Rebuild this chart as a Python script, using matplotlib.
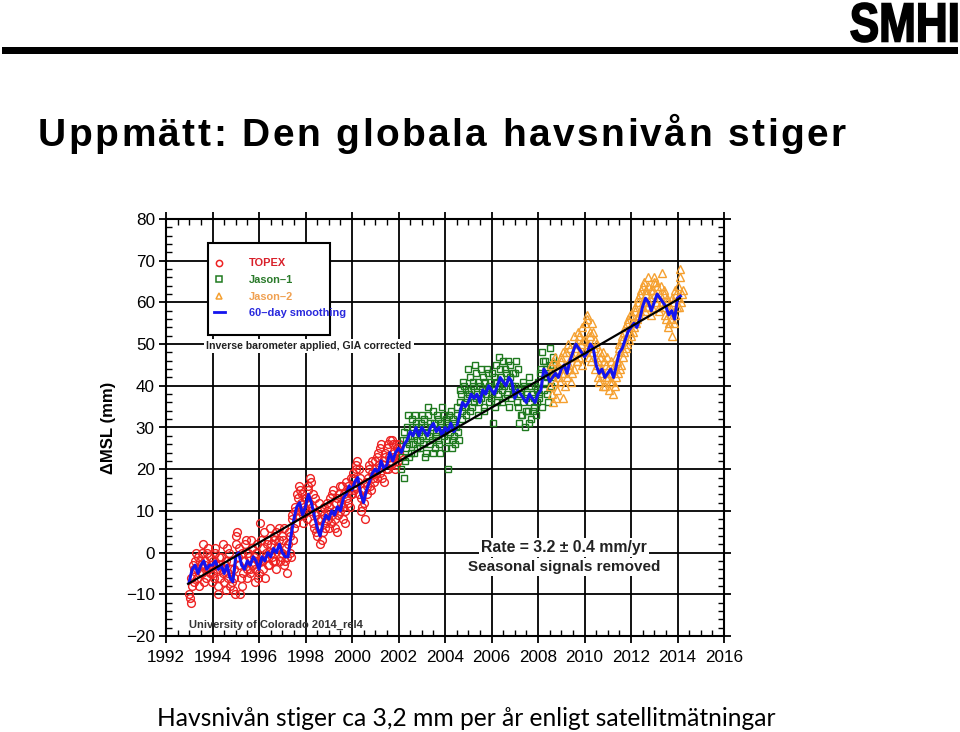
import numpy as np
import matplotlib
matplotlib.use("Agg")
import matplotlib.pyplot as plt
import matplotlib.transforms as mtransforms
from matplotlib.lines import Line2D
from matplotlib.patches import Rectangle, PathPatch
from matplotlib.textpath import TextPath
from matplotlib.font_manager import FontProperties

plt.rcParams['font.family'] = ['Liberation Sans', 'DejaVu Sans']

# --- data (mm); two interleaved sets, 16 samples per year each ---
topex_start = 1993.0
topex = [
    -10, -12, -8, -4, -2, -6, -1, -5, -3, 0, -7, -2, -4, 1, -5, -3,      # 1993
    -2, -6, 0, -4, -10, -3, -1, -5, -7, -2, 1, -6, -8, -4, -9, -6,       # 1994
    2, 5, -3, -10, 0, -5, -2, 3, -6, -1, -4, 1, -3, -7, 0, -2,           # 1995
    -5, 7, -2, 1, -6, 0, 3, -3, 2, -1, 4, -2, 5, 1, 3, -1,               # 1996
    0, 6, -2, -5, 2, 4, -1, 8, 6, 10, 14, 9, 15, 12, 7, 11,              # 1997
    13, 8, 16, 18, 10, 14, 6, 9, 4, 12, 2, 8, 5, 11, 7, 10,              # 1998
    6, 13, 9, 15, 8, 12, 5, 14, 10, 16, 11, 7, 17, 12, 15, 18,           # 1999
    14, 19, 16, 21, 17, 20, 13, 11, 15, 8, 16, 18, 21, 15, 19, 17,       # 2000
    22, 18, 24, 19, 26, 21, 17, 23, 25, 20, 27, 22, 26, 24, 21, 25,      # 2001
    26, 23,                                                              # 2002
]
topex_b = [
    -11, -6, -3, -7, 0, -4, -8, -2, -5, 2, -3, -6, 0, -4, -1, -7,
    -5, 1, -3, -8, -1, -6, -4, 2, -3, -9, -5, 0, -2, -7, -4, -10,
    4, -1, 1, -6, -8, -2, 2, -4, 0, -5, 3, -3, -1, -4, 2, -6,
    -2, 3, -4, 5, -1, 2, -3, 6, 0, -2, 3, -4, 1, 6, -2, 4,
    3, -3, 1, -1, 5, 0, 9, 3, 11, 7, 13, 16, 10, 14, 9, 13,
    10, 15, 12, 17, 11, 7, 13, 5, 8, 6, 10, 3, 9, 6, 12, 8,
    11, 7, 14, 10, 6, 13, 9, 16, 12, 8, 14, 10, 13, 16, 11, 14,
    18, 15, 20, 22, 14, 18, 10, 15, 12, 17, 14, 20, 16, 22, 18, 20,
    19, 23, 21, 25, 18, 22, 24, 20, 26, 23, 21, 27, 23, 20, 26, 22,
    24,
]

jason1_start = 2002.125
jason1 = [
    20, 27, 18, 25, 30, 23, 28, 32, 26, 24, 31, 27, 29, 25,              # 2002
    33, 26, 30, 24, 35, 28, 31, 27, 34, 25, 29, 32, 26, 30, 35, 28,      # 2003
    25, 32, 20, 30, 34, 27, 31, 26, 33, 29, 36, 38, 32, 40, 35, 37,      # 2004
    44, 34, 39, 41, 36, 43, 38, 33, 40, 37, 42, 35, 39, 44, 36, 41,      # 2005
    38, 31, 42, 45, 36, 40, 44, 39, 46, 37, 43, 41, 35, 45, 40, 38,      # 2006
    43, 46, 35, 31, 39, 33, 41, 30, 37, 34, 42, 32, 38, 35, 40, 36,      # 2007
    41, 37, 44, 48, 39, 46, 42, 36, 45, 40, 47,                          # 2008
]
jason1_b = [
    23, 29, 22, 27, 33, 26, 24, 30, 28, 33, 25, 30, 27, 31,
    28, 32, 23, 29, 33, 26, 30, 24, 31, 28, 33, 27, 24, 31, 29, 33,
    31, 27, 33, 29, 25, 32, 28, 30, 35, 27, 39, 34, 41, 36, 33, 39,
    38, 42, 35, 40, 45, 37, 41, 36, 44, 39, 34, 41, 38, 43, 40, 37,
    43, 39, 35, 41, 38, 47, 42, 36, 40, 44, 38, 46, 42, 37, 43, 39,
    40, 36, 44, 38, 33, 36, 40, 34, 38, 31, 36, 40, 34, 37, 33, 39,
    38, 43, 35, 46, 41, 44, 38, 43, 49, 42, 45,
]

jason2_start = 2008.5
jason2 = [
    40, 45, 36, 43, 47, 39, 44, 41,                                      # 2008
    46, 37, 43, 48, 42, 45, 49, 41, 47, 44, 50, 46, 52, 48, 45, 51,      # 2009
    55, 49, 56, 47, 52, 48, 53, 44, 50, 46, 41, 47, 43, 48, 40, 45,      # 2010
    42, 39, 46, 41, 44, 40, 47, 43, 49, 45, 52, 48, 54, 50, 56, 53,      # 2011
    52, 57, 54, 59, 56, 61, 58, 63, 60, 65, 62, 59, 64, 61, 57, 63,      # 2012
    66, 60, 64, 58, 62, 67, 59, 63, 56, 61, 55, 58, 52, 60, 57, 62,      # 2013
    64, 59, 68, 62,                                                      # 2014
]
jason2_b = [
    43, 38, 46, 41, 37, 45, 42, 47,
    43, 48, 40, 45, 50, 44, 47, 43, 52, 49, 46, 53, 47, 50, 54, 48,
    51, 57, 50, 53, 46, 55, 49, 51, 45, 42, 48, 44, 40, 46, 42, 47,
    44, 41, 43, 38, 45, 42, 46, 50, 44, 51, 47, 53, 49, 55, 51, 57,
    55, 53, 58, 55, 60, 57, 62, 59, 64, 58, 63, 66, 60, 63, 59, 65,
    62, 65, 61, 59, 64, 60, 62, 57, 60, 54, 59, 56, 61, 55, 63, 59,
    61, 66, 60, 63,
]

# 60-day smoothing, 8 samples per year
smooth_start = 1993.0
smooth = [
    -7, -4, -3, -5, -3, -2, -4, -3,
    -3, -2, -4, -3, -5, -3, -6, -7,
    -1, 0, -3, -4, -2, -3, -1, -2,
    -4, -1, -2, 0, -1, 1, 0, 2,
    0, -1, -1, 4, 8, 11, 12, 9,
    11, 14, 12, 9, 6, 4, 7, 9,
    8, 10, 9, 11, 10, 13, 14, 16,
    15, 17, 18, 14, 12, 15, 17, 19,
    20, 19, 22, 20, 21, 24, 22, 24,
    25, 24, 26, 27, 29, 28, 30, 28,
    30, 29, 28, 30, 31, 29, 30, 28,
    30, 29, 31, 29, 30, 33, 36, 35,
    36, 38, 37, 38, 36, 39, 38, 40,
    39, 38, 40, 42, 41, 40, 42, 41,
    37, 39, 38, 37, 36, 38, 37, 36,
    38, 39, 44, 43, 41, 42, 43, 42,
    44, 45, 43, 46, 48, 50, 49, 48,
    47, 48, 50, 49, 45, 43, 44, 42,
    43, 44, 42, 45, 48, 49, 51, 53,
    54, 55, 54, 56, 59, 61, 60, 58,
    60, 62, 61, 60, 59, 57, 58, 56,
    61, 61.5,
]

trend_years = [1992.95, 2014.1]
trend_vals = [-7.5, 61]

labels = ["TOPEX", "Jason\u20131", "Jason\u20132", "60\u2013day smoothing"]
x_ticks = list(range(1992, 2017, 2))
y_ticks = list(range(-20, 81, 10))

RED = '#ee2222'
GREEN = '#1f7a1f'
ORANGE = '#f5a030'
BLUE = '#1414ee'


def times(start, vals, offset=0.0):
    return start + offset + np.arange(len(vals)) / 16


fig = plt.figure(figsize=(9.6, 7.32), dpi=100)
ax = fig.add_axes([166 / 960, 1 - 636 / 732, 558 / 960, 417 / 732])

circ = dict(ls='none', marker='o', ms=5.6, mfc='none', mec=RED, mew=1.0, zorder=2)
sq = dict(ls='none', marker='s', ms=5.0, mfc='none', mec=GREEN, mew=1.0, zorder=2)
tri = dict(ls='none', marker='^', ms=5.8, mfc='none', mec=ORANGE, mew=1.0, zorder=2)
ax.plot(times(topex_start, topex), topex, **circ)
ax.plot(times(topex_start, topex_b, 1 / 32), topex_b, **circ)
ax.plot(times(jason1_start, jason1), jason1, **sq)
ax.plot(times(jason1_start, jason1_b, 1 / 32), jason1_b, **sq)
ax.plot(times(jason2_start, jason2), jason2, **tri)
ax.plot(times(jason2_start, jason2_b, 1 / 32), jason2_b, **tri)
ax.plot(smooth_start + np.arange(len(smooth)) / 8, smooth, color=BLUE, lw=2.2, zorder=3)
ax.plot(trend_years, trend_vals, color='black', lw=1.6, zorder=4)

ax.set_xlim(1992, 2016)
ax.set_ylim(-20, 80)
ax.set_xticks(x_ticks)
ax.set_yticks(y_ticks)
ax.set_xticks(np.arange(1992, 2016.01, 0.5), minor=True)
ax.set_yticks(np.arange(-20, 80.01, 2), minor=True)
ax.set_xticklabels([str(v) for v in x_ticks], fontsize=12.3)
ax.set_yticklabels([("\u2212" + str(-v)) if v < 0 else str(v) for v in y_ticks], fontsize=12.3)
ax.tick_params(which='major', direction='out', length=5, width=1.3, top=True, right=True, pad=3)
ax.tick_params(which='major', axis='x', pad=5)
ax.tick_params(which='minor', direction='in', length=4, width=1.0, top=True, right=True)
ax.grid(which='major', color='black', lw=1.3)
ax.set_axisbelow(True)
for s in ax.spines.values():
    s.set_linewidth(1.5)

ax.set_ylabel("\u0394MSL (mm)", fontsize=12, fontweight='bold', labelpad=7)

# legend box and entries
ax.add_patch(Rectangle((0.075, 0.722), 0.219, 0.2204, transform=ax.transAxes,
                       fc='white', ec='black', lw=1.5, zorder=5))
handles = [
    Line2D([], [], ls='none', marker='o', ms=4.5, mfc='none', mec=RED, mew=1.1),
    Line2D([], [], ls='none', marker='s', ms=4.2, mfc='none', mec=GREEN, mew=1.1),
    Line2D([], [], ls='none', marker='^', ms=4.8, mfc='none', mec=ORANGE, mew=1.1),
    Line2D([], [], color=BLUE, lw=2),
]
leg = ax.legend(handles, labels, loc='upper left', bbox_to_anchor=(0.0853, 0.9053),
                frameon=False, prop=dict(size=7.9, weight='bold'),
                labelcolor=['#d8202a', '#2a7a2a', '#f0a050', '#2828dd'],
                handlelength=1.0, handletextpad=2.2, labelspacing=0.6,
                borderpad=0, borderaxespad=0)
leg.set_zorder(6)

ax.text(0.256, 0.695, "Inverse barometer applied, GIA corrected", transform=ax.transAxes,
        ha='center', va='center', fontsize=7.6, fontweight='bold', color='#222222',
        bbox=dict(fc='white', ec='none', pad=1.5), zorder=5)
ax.text(0.042, 0.027, "University of Colorado 2014_rel4", transform=ax.transAxes,
        ha='left', va='center', fontsize=8.0, fontweight='bold', color='#333333', zorder=5)
ax.text(0.713, 0.212, "Rate = 3.2 \u00b1 0.4 mm/yr", transform=ax.transAxes,
        ha='center', va='center', fontsize=11.3, fontweight='bold', color='#222222',
        bbox=dict(fc='white', ec='none', pad=1.5), zorder=5)
ax.text(0.713, 0.165, "Seasonal signals removed", transform=ax.transAxes,
        ha='center', va='center', fontsize=11, fontweight='bold', color='#222222',
        bbox=dict(fc='white', ec='none', pad=1.5), zorder=5)

# slide decorations
fig.add_artist(Rectangle((2 / 960, 1 - 54 / 732), 956 / 960, 7 / 732,
                         transform=fig.transFigure, fc='black', ec='none'))
tp = TextPath((0, 0), "SMHI", prop=FontProperties(family='Liberation Sans', weight='bold'), size=1)
bb = tp.get_extents()
logo_tr = (mtransforms.Affine2D()
           .translate(-bb.x0, -bb.y0)
           .scale(106 / bb.width / 960, 39 / bb.height / 732)
           .translate(851 / 960, 1 - 42 / 732) + fig.transFigure)
fig.add_artist(PathPatch(tp, transform=logo_tr, fc='black', ec='black', lw=1.2))

# title with expanded letter spacing
title = "Uppmätt: Den globala havsnivån stiger"
title_prop = FontProperties(family='Liberation Sans', weight='bold', size=28)
renderer = fig.canvas.get_renderer()


def text_w(txt):
    return renderer.get_text_width_height_descent(txt, title_prop, ismath=False)[0]


for i, ch in enumerate(title):
    if ch == ' ':
        continue
    xpos = 38 + text_w(title[:i + 1]) - text_w(ch) + i * 2.45
    fig.text(xpos / 960, 1 - 146 / 732, ch, fontproperties=title_prop, ha='left', va='baseline')

fig.text(466 / 960, 1 - 718 / 732, "Havsnivån stiger ca 3,2 mm per år enligt satellitmätningar",
         fontsize=17.7, family=['Lato', 'DejaVu Sans'], ha='center', va='center')

fig.savefig("out.png", dpi=100)
